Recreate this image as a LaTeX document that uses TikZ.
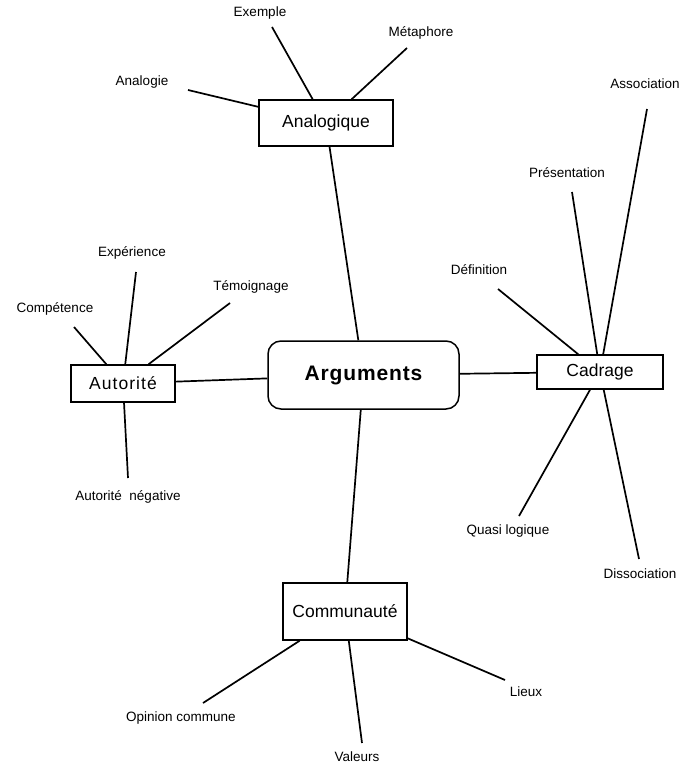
\documentclass[tikz,border=0pt]{standalone}
\usepackage{fontspec}
\setmainfont{Liberation Sans}
\begin{document}
\begin{tikzpicture}[x=1pt,y=-1pt,
  box/.style={draw, line width=1.5pt, inner sep=0pt, font=\fontsize{17.5}{20}\selectfont},
  lbl/.style={inner sep=0pt, font=\fontsize{13.5}{16}\selectfont},
  link/.style={line width=1.7pt}]
\useasboundingbox (0,0) rectangle (686,767);
% central and secondary boxes
\node[box, rounded corners=13pt, minimum width=191pt, minimum height=68pt,
  font=\fontsize{21}{24}\selectfont\bfseries\addfontfeature{LetterSpace=4}] (arg) at (363.5,375) {Arguments};
\node[box, minimum width=134pt, minimum height=46pt] (ana) at (326,123) {Analogique};
\node[box, minimum width=104pt, minimum height=37pt,
  font=\fontsize{17.5}{20}\selectfont\addfontfeature{LetterSpace=6}] (aut) at (123,383.5) {Autorité};
\node[box, minimum width=126pt, minimum height=34pt] (cad) at (600,372) {Cadrage};
\node[box, minimum width=124pt, minimum height=57pt] (com) at (345,611.5) {Communauté};
% labels
\node[lbl] (exe) at (260,13) {Exemple};
\node[lbl] (met) at (421,33) {Métaphore};
\node[lbl] (anl) at (142,82) {Analogie};
\node[lbl] (exp) at (132,253) {Expérience};
\node[lbl] (tem) at (251,287) {Témoignage};
\node[lbl] (cmp) at (55,309) {Compétence};
\node[lbl] (neg) at (128,497) {Autorité\ \ négative};
\node[lbl] (def) at (479,270) {Définition};
\node[lbl] (pre) at (567,173) {Présentation};
\node[lbl] (ass) at (645,84) {Association};
\node[lbl] (qua) at (508,531) {Quasi logique};
\node[lbl] (dis) at (640,574) {Dissociation};
\node[lbl] (opi) at (181,718) {Opinion commune};
\node[lbl] (val) at (357,757) {Valeurs};
\node[lbl] (lie) at (526,692) {Lieux};
% free ends
\coordinate (cexe) at (272,27);
\coordinate (cmet) at (407,48);
\coordinate (canl) at (188,90);
\coordinate (cexp) at (136,272);
\coordinate (ctem) at (230,303);
\coordinate (ccmp) at (74,327);
\coordinate (cneg) at (128,478);
\coordinate (cdef) at (498,289);
\coordinate (cpre) at (572,192);
\coordinate (cass) at (647,109);
\coordinate (cqua) at (519,516);
\coordinate (cdis) at (639,559);
\coordinate (copi) at (203,703);
\coordinate (cval) at (362,743);
\coordinate (clie) at (505,680);
% connectors
\draw[link] (ana) -- (arg);
\draw[link] (aut) -- (arg);
\draw[link] (cad) -- (arg);
\draw[link] (com) -- (arg);
\draw[link] (cexe) -- (ana);
\draw[link] (cmet) -- (ana);
\draw[link] (canl) -- (ana);
\draw[link] (cexp) -- (aut);
\draw[link] (ctem) -- (aut);
\draw[link] (ccmp) -- (aut);
\draw[link] (cneg) -- (aut);
\draw[link] (cdef) -- (cad);
\draw[link] (cpre) -- (cad);
\draw[link] (cass) -- (cad);
\draw[link] (cqua) -- (cad);
\draw[link] (cdis) -- (cad);
\draw[link] (copi) -- (com);
\draw[link] (cval) -- (com);
\draw[link] (clie) -- (com);
\end{tikzpicture}
\end{document}
